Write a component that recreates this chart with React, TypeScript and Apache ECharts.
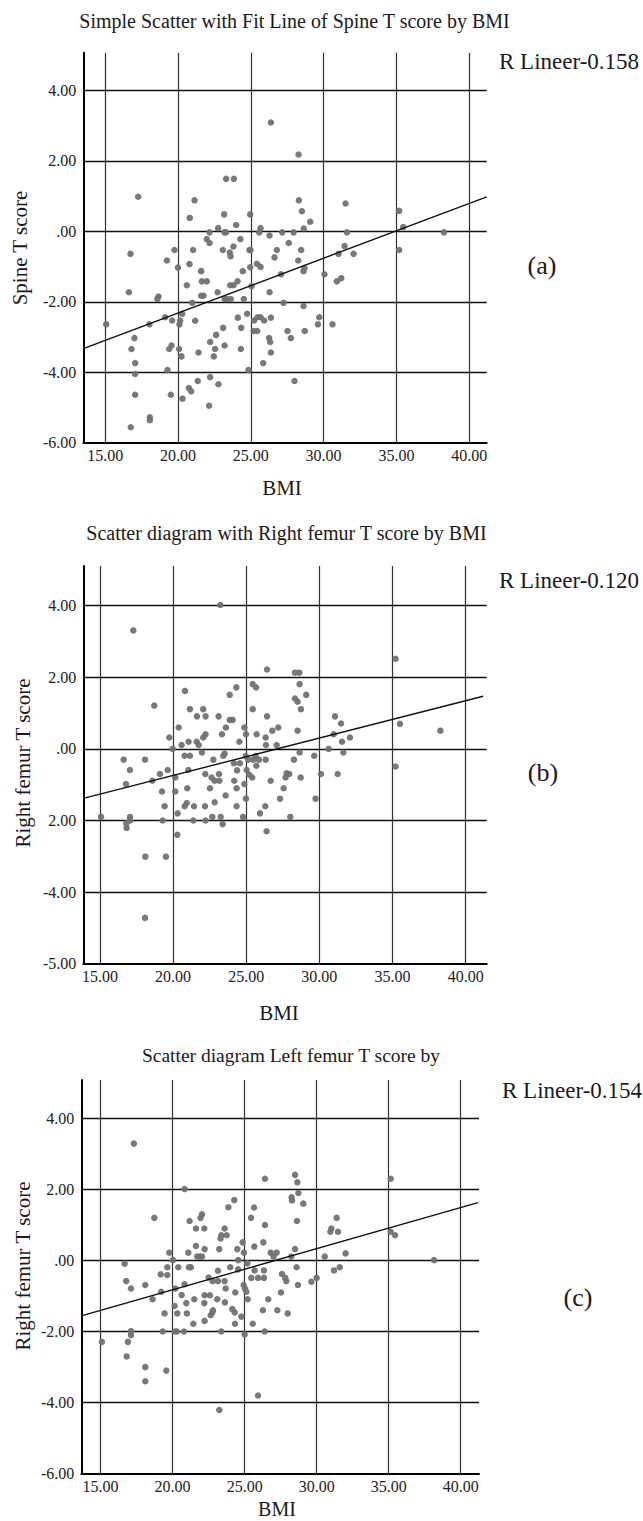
import React, { useEffect, useRef } from "react";
import * as echarts from "echarts";

// ---------- data ----------
const xTickValues = [15, 20, 25, 30, 35, 40];
const xTickLabels = ["15.00", "20.00", "25.00", "30.00", "35.00", "40.00"];
const yTickValues = [-6, -4, -2, 0, 2, 4];
const yTickLabelsA = ["-6.00", "-4.00", "-2.00", ".00", "2.00", "4.00"];
const yTickLabelsB = ["-5.00", "-4.00", "2.00", ".00", "2.00", "4.00"];
const yTickLabelsC = ["-6.00", "-4.00", "-2.00", ".00", "2.00", "4.00"];

const panelTitles = [
  "Simple Scatter with Fit Line of Spine T score by BMI",
  "Scatter diagram with Right femur T score by BMI",
  "Scatter diagram Left femur T score by",
];
const rLabels = ["R Lineer-0.158", "R Lineer-0.120", "R Lineer-0.154"];
const panelTags = ["(a)", "(b)", "(c)"];
const yNames = ["Spine T score", "Right femur T score", "Right femur T score"];
const xName = "BMI";

const spinePoints = [
  [26.38, 3.09], [28.28, 2.18], [23.31, 1.49], [23.84, 1.49], [17.27, 0.98], [21.14, 0.88], [28.3, 0.88],
  [31.51, 0.79], [28.51, 0.57], [23.17, 0.48], [24.96, 0.48], [20.81, 0.38], [35.19, 0.58], [29.08, 0.27],
  [24.0, 0.18], [22.76, 0.09], [25.67, 0.09], [28.64, 0.08], [22.17, -0.03], [23.19, -0.03], [23.3, -0.03],
  [25.58, -0.03], [26.29, -0.12], [27.16, -0.03], [27.94, -0.03], [31.6, -0.03], [35.47, 0.12], [38.26, -0.03],
  [21.98, -0.22], [22.17, -0.33], [24.29, -0.22], [27.61, -0.33], [23.81, -0.43], [16.74, -0.64], [19.76, -0.53],
  [21.04, -0.53], [23.08, -0.53], [23.56, -0.6], [23.61, -0.71], [24.91, -0.53], [24.98, -0.53], [26.79, -0.53],
  [28.46, -0.53], [31.44, -0.42], [32.06, -0.64], [35.19, -0.53], [31.03, -0.64], [26.63, -0.74], [19.24, -0.83],
  [20.79, -0.93], [28.26, -0.83], [20.0, -1.03], [25.42, -0.92], [25.67, -1.01], [24.96, -1.02], [24.45, -1.13],
  [21.59, -1.13], [28.62, -1.13], [28.69, -1.04], [27.07, -1.22], [30.06, -1.22], [21.64, -1.42], [21.98, -1.42],
  [23.59, -1.53], [23.81, -1.53], [24.09, -1.42], [20.61, -1.53], [25.05, -1.56], [30.91, -1.42], [31.21, -1.33],
  [16.63, -1.73], [18.66, -1.85], [18.59, -1.92], [21.59, -1.83], [21.75, -1.83], [22.72, -1.73], [23.2, -1.92],
  [23.36, -1.92], [23.63, -1.92], [24.52, -1.92], [26.29, -1.73], [20.98, -2.03], [27.25, -2.03], [28.62, -2.12],
  [15.07, -2.64], [18.04, -2.64], [19.12, -2.44], [19.6, -2.53], [20.1, -2.64], [20.15, -2.53], [20.29, -2.34],
  [21.18, -2.54], [23.1, -2.74], [24.11, -2.45], [24.75, -2.34], [25.23, -2.53], [25.46, -2.44], [25.67, -2.44],
  [25.92, -2.53], [26.38, -2.45], [24.34, -2.74], [25.19, -2.83], [25.44, -2.83], [27.52, -2.83], [28.71, -2.83],
  [29.7, -2.44], [29.61, -2.64], [30.61, -2.64], [17.01, -3.03], [16.81, -3.34], [22.62, -2.94], [22.21, -3.14],
  [23.2, -3.24], [19.4, -3.34], [19.56, -3.24], [20.08, -3.34], [22.55, -3.34], [24.32, -3.34], [26.26, -3.03],
  [26.33, -3.14], [27.75, -3.03], [26.38, -3.44], [17.06, -3.74], [20.24, -3.55], [21.41, -3.44], [22.46, -3.55],
  [25.85, -3.74], [17.06, -4.05], [19.28, -3.94], [24.84, -3.94], [28.0, -4.25], [21.36, -4.25], [22.21, -4.14],
  [22.78, -4.34], [20.75, -4.45], [20.91, -4.54], [17.06, -4.64], [19.51, -4.64], [20.31, -4.75], [22.14, -4.95],
  [18.07, -5.28], [18.07, -5.36], [16.76, -5.56],
];

const rightFemurPoints = [
  [23.23, 4.02], [17.28, 3.31], [35.21, 2.52], [26.42, 2.22], [28.33, 2.13], [28.63, 2.13], [28.65, 1.81],
  [25.44, 1.81], [25.67, 1.72], [24.32, 1.72], [20.81, 1.62], [23.87, 1.51], [29.1, 1.51], [28.33, 1.41],
  [28.51, 1.32], [18.71, 1.21], [21.15, 1.11], [22.06, 1.11], [25.44, 1.11], [28.74, 1.11], [21.63, 0.91],
  [22.22, 0.91], [23.11, 0.91], [26.42, 0.91], [31.07, 0.91], [23.87, 0.81], [24.07, 0.81], [31.48, 0.71],
  [35.51, 0.7], [20.38, 0.6], [23.61, 0.6], [24.87, 0.6], [27.19, 0.6], [28.51, 0.51], [26.78, 0.51],
  [38.27, 0.51], [19.74, 0.32], [22.22, 0.41], [22.06, 0.32], [23.34, 0.41], [24.98, 0.41], [25.71, 0.41],
  [26.33, 0.32], [30.98, 0.41], [32.09, 0.32], [20.58, 0.11], [21.06, 0.2], [21.61, 0.2], [21.75, 0.11],
  [24.53, 0.2], [26.35, 0.11], [27.08, 0.11], [31.55, 0.2], [30.63, 0.0], [19.97, 0.0], [21.97, -0.1],
  [28.65, -0.1], [31.64, -0.1], [16.62, -0.3], [18.08, -0.3], [20.79, -0.19], [21.15, -0.19], [22.75, -0.3],
  [23.43, -0.19], [23.52, -0.13], [24.16, -0.4], [24.57, -0.4], [24.96, -0.2], [25.14, -0.3], [25.48, -0.3],
  [25.64, -0.2], [25.87, -0.3], [26.33, -0.3], [28.26, -0.3], [29.65, -0.19], [17.05, -0.59], [19.1, -0.7],
  [19.63, -0.59], [21.04, -0.59], [22.2, -0.7], [23.14, -0.7], [24.37, -0.6], [25.03, -0.59], [25.69, -0.47],
  [27.94, -0.7], [30.11, -0.7], [31.25, -0.7], [16.78, -0.98], [18.58, -0.89], [20.15, -0.8], [22.63, -0.8],
  [22.84, -0.89], [23.16, -0.89], [24.18, -0.89], [25.21, -0.72], [25.41, -0.8], [26.67, -0.89], [27.69, -0.8],
  [27.76, -0.68], [28.72, -0.8], [19.24, -1.19], [20.15, -1.19], [20.97, -1.1], [22.52, -1.1], [24.34, -1.1],
  [24.87, -0.98], [27.56, -1.1], [23.59, -1.3], [24.98, -1.39], [27.31, -1.39], [29.74, -1.39], [19.42, -1.6],
  [20.79, -1.6], [20.93, -1.51], [21.43, -1.6], [22.18, -1.6], [22.84, -1.49], [24.34, -1.6], [26.3, -1.6],
  [20.31, -1.8], [25.94, -1.8], [15.07, -1.9], [17.05, -1.9], [17.05, -2.0], [16.8, -2.08], [16.82, -2.21],
  [19.28, -2.0], [21.38, -2.0], [22.22, -2.0], [22.68, -1.9], [23.25, -1.9], [23.39, -2.1], [24.78, -1.9],
  [28.01, -1.9], [26.39, -2.3], [20.29, -2.4], [18.1, -3.01], [19.51, -3.01], [18.08, -4.72], [35.21, -0.49],
];

const leftFemurPoints = [
  [17.31, 3.28], [26.41, 2.29], [28.5, 2.4], [28.66, 2.19], [35.14, 2.29], [20.83, 2.0], [28.73, 1.89],
  [28.26, 1.77], [28.29, 1.68], [29.07, 1.59], [24.28, 1.69], [23.87, 1.49], [25.65, 1.48], [18.73, 1.19],
  [22.04, 1.29], [21.94, 1.19], [21.18, 1.1], [28.63, 1.1], [31.39, 1.19], [25.44, 1.19], [26.41, 0.99],
  [21.62, 0.89], [22.2, 0.89], [23.61, 0.89], [31.02, 0.89], [30.95, 0.8], [31.48, 0.8], [23.38, 0.7],
  [23.75, 0.7], [23.33, 0.61], [35.14, 0.8], [35.44, 0.7], [24.86, 0.5], [26.3, 0.5], [21.62, 0.4],
  [22.22, 0.31], [23.24, 0.31], [24.49, 0.31], [25.67, 0.38], [28.5, 0.31], [19.77, 0.21], [20.02, 0.0],
  [21.09, 0.21], [21.71, 0.1], [21.9, 0.1], [22.04, 0.1], [24.95, 0.21], [26.81, 0.21], [27.01, 0.1],
  [27.22, 0.21], [28.24, 0.1], [30.56, 0.1], [32.01, 0.19], [16.67, -0.1], [19.63, -0.2], [19.63, -0.42],
  [20.39, -0.2], [21.13, -0.2], [21.27, -0.2], [24.56, 0.0], [25.19, -0.09], [24.0, -0.2], [24.54, -0.26],
  [25.69, -0.29], [26.34, -0.29], [28.61, -0.2], [38.15, 0.0], [31.6, -0.2], [31.2, -0.29], [19.17, -0.4],
  [23.15, -0.3], [22.5, -0.49], [22.78, -0.59], [23.15, -0.59], [23.61, -0.59], [25.46, -0.5], [25.93, -0.5],
  [26.34, -0.5], [27.59, -0.39], [27.82, -0.5], [27.89, -0.59], [29.63, -0.61], [30.0, -0.5], [16.78, -0.59],
  [17.11, -0.8], [18.1, -0.7], [20.19, -0.8], [20.83, -0.68], [24.93, -0.7], [25.02, -0.8], [25.12, -0.89],
  [28.7, -0.7], [23.68, -0.8], [19.21, -0.89], [20.63, -0.98], [18.61, -1.1], [21.5, -1.1], [22.22, -0.99],
  [22.59, -0.99], [23.1, -1.1], [24.35, -0.91], [20.95, -1.21], [22.2, -1.21], [23.63, -1.19], [25.21, -1.1],
  [26.64, -1.1], [27.52, -0.91], [20.14, -1.29], [24.14, -1.38], [24.31, -1.47], [22.76, -1.47], [22.64, -1.55],
  [22.8, -1.41], [19.44, -1.5], [20.32, -1.5], [20.99, -1.5], [26.27, -1.41], [27.27, -1.41], [27.99, -1.5],
  [24.77, -1.59], [21.44, -1.79], [22.22, -1.71], [24.33, -1.79], [25.56, -1.79], [19.31, -2.01], [20.16, -2.01],
  [20.3, -2.01], [20.79, -2.01], [23.38, -2.01], [25.0, -2.09], [26.39, -2.01], [17.11, -2.0], [17.11, -2.11],
  [15.09, -2.3], [16.9, -2.3], [16.81, -2.71], [18.1, -3.01], [19.56, -3.11], [18.1, -3.41], [25.93, -3.81],
  [23.24, -4.22],
];

const spineFit = [[13.5, -3.33], [41.2, 0.98]];
const rightFemurFit = [[13.86, -1.38], [41.2, 1.47]];
const leftFemurFit = [[13.66, -1.57], [41.2, 1.62]];

// ---------- layout (positions/styles) ----------
const FONT = "Liberation Serif, serif";

const panels = [
  {
    grid: { left: 83.3, top: 52.7, width: 403.4, height: 390 },
    xMin: 13.5, xMax: 41.2, yMax: 5.07,
    yLabels: yTickLabelsA, points: spinePoints, fit: spineFit,
    titlePos: [294.5, 20.7], rPos: [499, 61.7], tagPos: [542, 265], yNamePos: [20, 248], xNamePos: [282, 488],
    titleSize: 20,
  },
  {
    grid: { left: 83.3, top: 566, width: 403.4, height: 397.7 },
    xMin: 13.86, xMax: 41.44, yMax: 5.11,
    yLabels: yTickLabelsB, points: rightFemurPoints, fit: rightFemurFit,
    titlePos: [286.5, 533.3], rPos: [499, 580], tagPos: [543, 772], yNamePos: [22.5, 763], xNamePos: [279, 1013],
    titleSize: 20,
  },
  {
    grid: { left: 81.3, top: 1080, width: 397.7, height: 393.3 },
    xMin: 13.66, xMax: 41.27, yMax: 5.07,
    yLabels: yTickLabelsC, points: leftFemurPoints, fit: leftFemurFit,
    titlePos: [291, 1055], rPos: [502, 1090], tagPos: [578, 1297], yNamePos: [22.5, 1266], xNamePos: [277, 1509],
    titleSize: 19.5,
  },
];

function textEl(
  text: string,
  x: number,
  y: number,
  size: number,
  align: string,
  rotation = 0
) {
  return {
    type: "text",
    x,
    y,
    rotation,
    silent: true,
    style: {
      text,
      fill: "#1a1a1a",
      fontSize: size,
      fontFamily: FONT,
      align,
      verticalAlign: "middle",
      textAlign: align,
      textVerticalAlign: "middle",
    },
  };
}

export default function App() {
  const ref = useRef<HTMLDivElement>(null);

  useEffect(() => {
    if (!ref.current) return;
    const chart = echarts.init(ref.current, null, { renderer: "svg" });

    const grids: any[] = [];
    const xAxes: any[] = [];
    const yAxes: any[] = [];
    const series: any[] = [];
    const graphics: any[] = [];

    panels.forEach((p, i) => {
      grids.push({ ...p.grid, containLabel: false });
      xAxes.push({
        type: "value",
        gridIndex: i,
        min: p.xMin,
        max: p.xMax,
        splitNumber: 5,
        axisLine: { show: true, onZero: false, lineStyle: { color: "#000", width: 2 } },
        axisTick: { show: false },
        axisLabel: {
          margin: 5,
          fontSize: 16,
          fontFamily: FONT,
          color: "#222",
          showMinLabel: false,
          showMaxLabel: false,
          formatter: (v: number) => {
            const k = xTickValues.findIndex((t) => Math.abs(t - v) < 1e-6);
            return k >= 0 ? xTickLabels[k] : "";
          },
        },
        splitLine: {
          show: true,
          showMinLine: false,
          showMaxLine: false,
          lineStyle: { color: "#333", width: 1.2 },
        },
      });
      yAxes.push({
        type: "value",
        gridIndex: i,
        min: -6,
        max: p.yMax,
        interval: 2,
        axisLine: { show: true, onZero: false, lineStyle: { color: "#000", width: 2 } },
        axisTick: { show: false },
        axisLabel: {
          margin: 7,
          fontSize: 16,
          fontFamily: FONT,
          color: "#222",
          showMaxLabel: false,
          formatter: (v: number) => {
            const k = yTickValues.findIndex((t) => Math.abs(t - v) < 1e-6);
            return k >= 0 ? p.yLabels[k] : "";
          },
        },
        splitLine: {
          show: true,
          showMinLine: false,
          showMaxLine: false,
          lineStyle: { color: "#111", width: 1.3 },
        },
      });
      series.push({
        type: "scatter",
        xAxisIndex: i,
        yAxisIndex: i,
        data: p.points,
        symbol: "circle",
        symbolSize: 6.5,
        itemStyle: { color: "#727272", opacity: 0.95 },
        silent: true,
        z: 3,
      });
      series.push({
        type: "line",
        xAxisIndex: i,
        yAxisIndex: i,
        data: p.fit,
        showSymbol: false,
        symbol: "none",
        lineStyle: { color: "#111", width: 1.4 },
        silent: true,
        z: 4,
      });

      graphics.push(textEl(panelTitles[i], p.titlePos[0], p.titlePos[1], p.titleSize, "center"));
      graphics.push(textEl(rLabels[i], p.rPos[0], p.rPos[1], 23, "left"));
      graphics.push(textEl(panelTags[i], p.tagPos[0], p.tagPos[1], 26, "center"));
      graphics.push(textEl(yNames[i], p.yNamePos[0], p.yNamePos[1], 21, "center", Math.PI / 2));
      graphics.push(textEl(xName, p.xNamePos[0], p.xNamePos[1], i === 2 ? 20 : 21, "center"));
    });

    chart.setOption({
      animation: false,
      backgroundColor: "#fff",
      grid: grids,
      xAxis: xAxes,
      yAxis: yAxes,
      series,
      graphic: graphics,
    });

    return () => chart.dispose();
  }, []);

  return (
    <div
      ref={ref}
      style={{ position: "absolute", left: 0, top: 0, width: 643, height: 1521, background: "#fff" }}
    />
  );
}
